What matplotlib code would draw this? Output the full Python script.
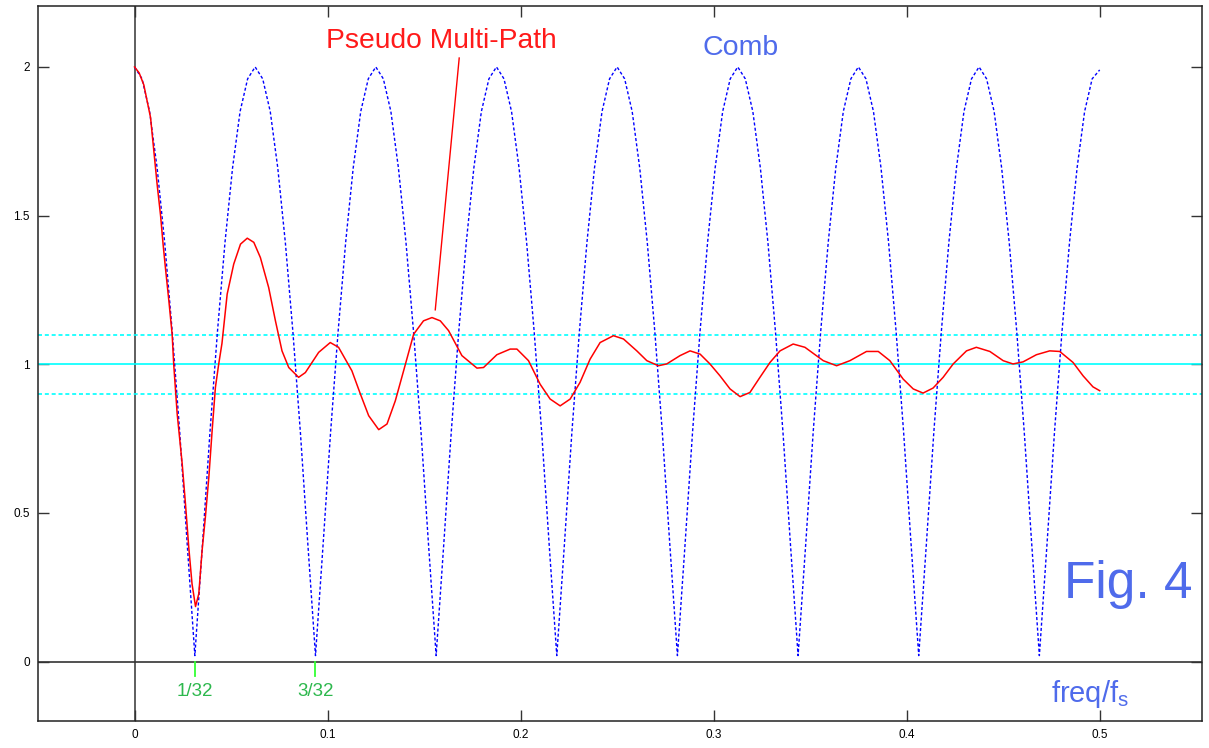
import numpy as np
import matplotlib
matplotlib.use("Agg")
import matplotlib.pyplot as plt

plt.rcParams['font.family'] = ['Liberation Sans', 'DejaVu Sans']

# Comb response, sampled every 1/256 of fs (16 points per lobe)
comb_freq = np.linspace(0, 0.5, 129)
comb_vals = [
    2.00, 1.96, 1.85, 1.66, 1.41, 1.11, 0.77, 0.39, 0.02, 0.39, 0.77, 1.11, 1.41, 1.66, 1.85, 1.96,
    2.00, 1.96, 1.85, 1.66, 1.41, 1.11, 0.77, 0.39, 0.02, 0.39, 0.77, 1.11, 1.41, 1.66, 1.85, 1.96,
    2.00, 1.96, 1.85, 1.66, 1.41, 1.11, 0.77, 0.39, 0.02, 0.39, 0.77, 1.11, 1.41, 1.66, 1.85, 1.96,
    2.00, 1.96, 1.85, 1.66, 1.41, 1.11, 0.77, 0.39, 0.02, 0.39, 0.77, 1.11, 1.41, 1.66, 1.85, 1.96,
    2.00, 1.96, 1.85, 1.66, 1.41, 1.11, 0.77, 0.39, 0.02, 0.39, 0.77, 1.11, 1.41, 1.66, 1.85, 1.96,
    2.00, 1.96, 1.85, 1.66, 1.41, 1.11, 0.77, 0.39, 0.02, 0.39, 0.77, 1.11, 1.41, 1.66, 1.85, 1.96,
    2.00, 1.96, 1.85, 1.66, 1.41, 1.11, 0.77, 0.39, 0.02, 0.39, 0.77, 1.11, 1.41, 1.66, 1.85, 1.96,
    2.00, 1.96, 1.85, 1.66, 1.41, 1.11, 0.77, 0.39, 0.02, 0.39, 0.77, 1.11, 1.41, 1.66, 1.85, 1.96,
    1.99,
]

# Pseudo multi-path response
pm_freq = [0.0, 0.0024, 0.0048, 0.0083, 0.0100, 0.0117, 0.0135, 0.0148, 0.0160, 0.0178,
           0.0195, 0.0203, 0.0221, 0.0247, 0.0264, 0.0281, 0.0298, 0.0316, 0.0333, 0.0350,
           0.0367, 0.0385, 0.0402, 0.0419, 0.0436, 0.0453, 0.0480, 0.0514, 0.0549, 0.0584,
           0.0618, 0.0652, 0.0695, 0.0730, 0.0764, 0.0799, 0.0850, 0.0885, 0.0954, 0.1014,
           0.1057, 0.1126, 0.1170, 0.1213, 0.1265, 0.1308, 0.1351, 0.1394, 0.1446, 0.1497,
           0.1541, 0.1584, 0.1627, 0.1696, 0.1774, 0.1808,
           0.1877, 0.1946, 0.1981, 0.2041, 0.2101, 0.2153, 0.2205, 0.2257, 0.2308, 0.236,
           0.2412, 0.2481, 0.2533, 0.2602, 0.2654, 0.2714, 0.2757, 0.2826, 0.2878, 0.293,
           0.2981, 0.3033, 0.3085, 0.3137, 0.3188, 0.324, 0.3292, 0.3344, 0.3412, 0.3473,
           0.3568, 0.3637, 0.3706, 0.3792, 0.3853, 0.3913, 0.3982, 0.4034, 0.4085, 0.4137,
           0.4189, 0.4241, 0.431, 0.4361, 0.4431, 0.450, 0.4551, 0.4603, 0.4672, 0.4741,
           0.4793, 0.4862, 0.4914, 0.4965, 0.500]
pm_vals = [2.00, 1.98, 1.94, 1.83, 1.718, 1.606, 1.50, 1.404, 1.325, 1.213,
           1.10, 1.00, 0.833, 0.665, 0.53, 0.384, 0.261, 0.185, 0.228, 0.373,
           0.485, 0.62, 0.776, 0.922, 1.00, 1.07, 1.236, 1.337, 1.404, 1.424,
           1.41, 1.359, 1.258, 1.146, 1.045, 0.989, 0.956, 0.972, 1.04, 1.073,
           1.057, 0.978, 0.90, 0.827, 0.78, 0.799, 0.877, 0.978, 1.101, 1.146,
           1.157, 1.146, 1.113, 1.029, 0.987, 0.989,
           1.032, 1.051, 1.051, 1.012, 0.933, 0.883, 0.860, 0.883, 0.939, 1.017,
           1.073, 1.096, 1.085, 1.045, 1.012, 0.995, 1.001, 1.029, 1.045, 1.034,
           1.001, 0.961, 0.917, 0.891, 0.905, 0.956, 1.006, 1.045, 1.068, 1.057,
           1.012, 0.995, 1.012, 1.043, 1.043, 1.012, 0.950, 0.917, 0.903, 0.920,
           0.956, 1.001, 1.045, 1.057, 1.043, 1.012, 1.001, 1.008, 1.032, 1.045,
           1.043, 1.006, 0.961, 0.924, 0.911]

target = 1.0
tolerance = [0.9, 1.1]
marks = [1 / 32, 3 / 32]
mark_labels = ['1/32', '3/32']

xticks = [0, 0.1, 0.2, 0.3, 0.4, 0.5]
xtick_labels = ['0', '0.1', '0.2', '0.3', '0.4', '0.5']
yticks = [0, 0.5, 1, 1.5, 2]
ytick_labels = ['0', '0.5', '1', '1.5', '2']

fig = plt.figure(figsize=(12.09, 7.48), dpi=100)
ax = fig.add_axes([38 / 1209, 1 - 721 / 748, (1202 - 38) / 1209, (721 - 6) / 748])
ax.set_xlim(-0.05, 0.553)
ax.set_ylim(-0.2, 2.205)

# reference lines
ax.axhline(0, color='#222222', lw=1.1, zorder=1)
ax.axvline(0, color='#333333', lw=1.1, zorder=1)
ax.axhline(target, color='cyan', lw=1.2, zorder=2)
for t in tolerance:
    ax.axhline(t, color='cyan', lw=1.2, dashes=(2.4, 1.7), zorder=2)

ax.plot(comb_freq, comb_vals, color='blue', lw=1.0, dashes=(2.2, 1.6), zorder=3)
ax.plot(pm_freq, pm_vals, color='red', lw=1.1, zorder=4)

# 1/32, 3/32 marks
for m, lab in zip(marks, mark_labels):
    ax.plot([m, m], [0, -0.05], color='#33ff33', lw=1.3, zorder=3)
    ax.text(m, -0.1, lab, color='#2db84d', fontsize=13.5, ha='center', va='center')

# labels
ax.plot([0.1558, 0.1682], [1.183, 2.03], color='red', lw=1.0)
ax.text(0.1592, 2.087, 'Pseudo Multi-Path', color='#ff1a1a', fontsize=20.3,
        ha='center', va='center')
ax.text(0.314, 2.065, 'Comb', color='#4f6beb', fontsize=20.5, ha='center', va='center')
ax.text(0.515, 0.26, 'Fig. 4', color='#4f6beb', fontsize=37, ha='center', va='center')
ax.text(0.4948, -0.11, 'freq/f$_\\mathregular{s}$', color='#4f6beb', fontsize=21,
        ha='center', va='center')

ax.set_xticks(xticks)
ax.set_xticklabels(xtick_labels)
ax.set_yticks(yticks)
ax.set_yticklabels(ytick_labels)
ax.tick_params(direction='in', length=8, width=1, top=True, right=True,
               labelsize=8.5, color='#333333', pad=6)
for s in ax.spines.values():
    s.set_color('#222222')
    s.set_linewidth(1.1)

fig.savefig('out.png', dpi=100)
